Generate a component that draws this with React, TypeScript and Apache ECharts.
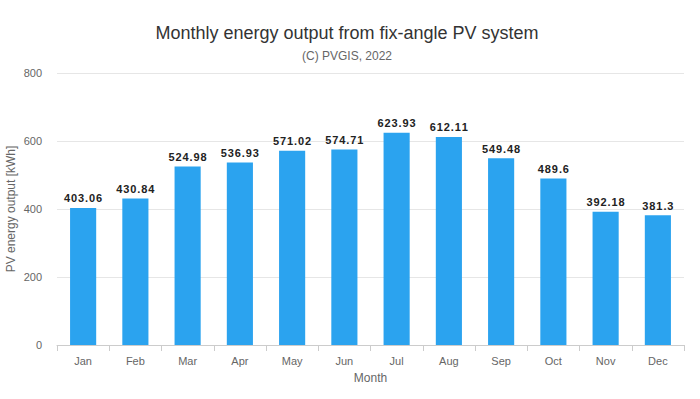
import React, { useEffect, useRef } from "react";
import * as echarts from "echarts";

const months = ["Jan", "Feb", "Mar", "Apr", "May", "Jun", "Jul", "Aug", "Sep", "Oct", "Nov", "Dec"];
const output = [403.06, 430.84, 524.98, 536.93, 571.02, 574.71, 623.93, 612.11, 549.48, 489.6, 392.18, 381.3];

export default function App() {
  const ref = useRef<HTMLDivElement>(null);
  useEffect(() => {
    const chart = echarts.init(ref.current!, null, { renderer: "svg" });
    chart.setOption({
      animation: false,
      backgroundColor: "#fff",
      textStyle: { fontFamily: "'Liberation Sans', Arial, sans-serif" },
      title: {
        text: "Monthly energy output from fix-angle PV system",
        subtext: "(C) PVGIS, 2022",
        left: 342,
        textAlign: "center",
        top: 19,
        itemGap: 8,
        textStyle: { fontSize: 18, fontWeight: "normal", color: "#333" },
        subtextStyle: { fontSize: 12, color: "#666" },
      },
      grid: { left: 57, right: 16, top: 73, bottom: 54, containLabel: false, outerBoundsMode: "none" },
      xAxis: {
        type: "category",
        data: months,
        name: "Month",
        nameLocation: "middle",
        nameGap: 27,
        nameMoveOverlap: false,
        nameTextStyle: { color: "#666", fontSize: 12 },
        axisLine: { lineStyle: { color: "#ccc" } },
        axisTick: { show: true, lineStyle: { color: "#ccc" }, length: 6 },
        axisLabel: { color: "#666", fontSize: 11, margin: 10 },
      },
      yAxis: {
        type: "value",
        min: 0,
        max: 800,
        interval: 200,
        name: "PV energy output [kWh]",
        nameLocation: "middle",
        nameGap: 40,
        nameMoveOverlap: false,
        nameTextStyle: { color: "#666", fontSize: 12 },
        axisLine: { show: false },
        axisTick: { show: false },
        axisLabel: { color: "#666", fontSize: 11, margin: 15 },
        splitLine: { lineStyle: { color: "#e6e6e6" } },
      },
      series: [
        {
          type: "bar",
          data: output,
          barWidth: "50%",
          itemStyle: { color: "#2ba3ef" },
          label: {
            show: true,
            position: "top",
            distance: 4,
            color: "#222",
            fontSize: 11,
            fontWeight: "bold",
            formatter: (p: any) => String(p.value).split("").join("\u200A"),
          },
        },
      ],
    });
    return () => chart.dispose();
  }, []);
  return (
    <div
      ref={ref}
      style={{ position: "fixed", left: 0, top: 0, width: 700, height: 399 }}
    />
  );
}
